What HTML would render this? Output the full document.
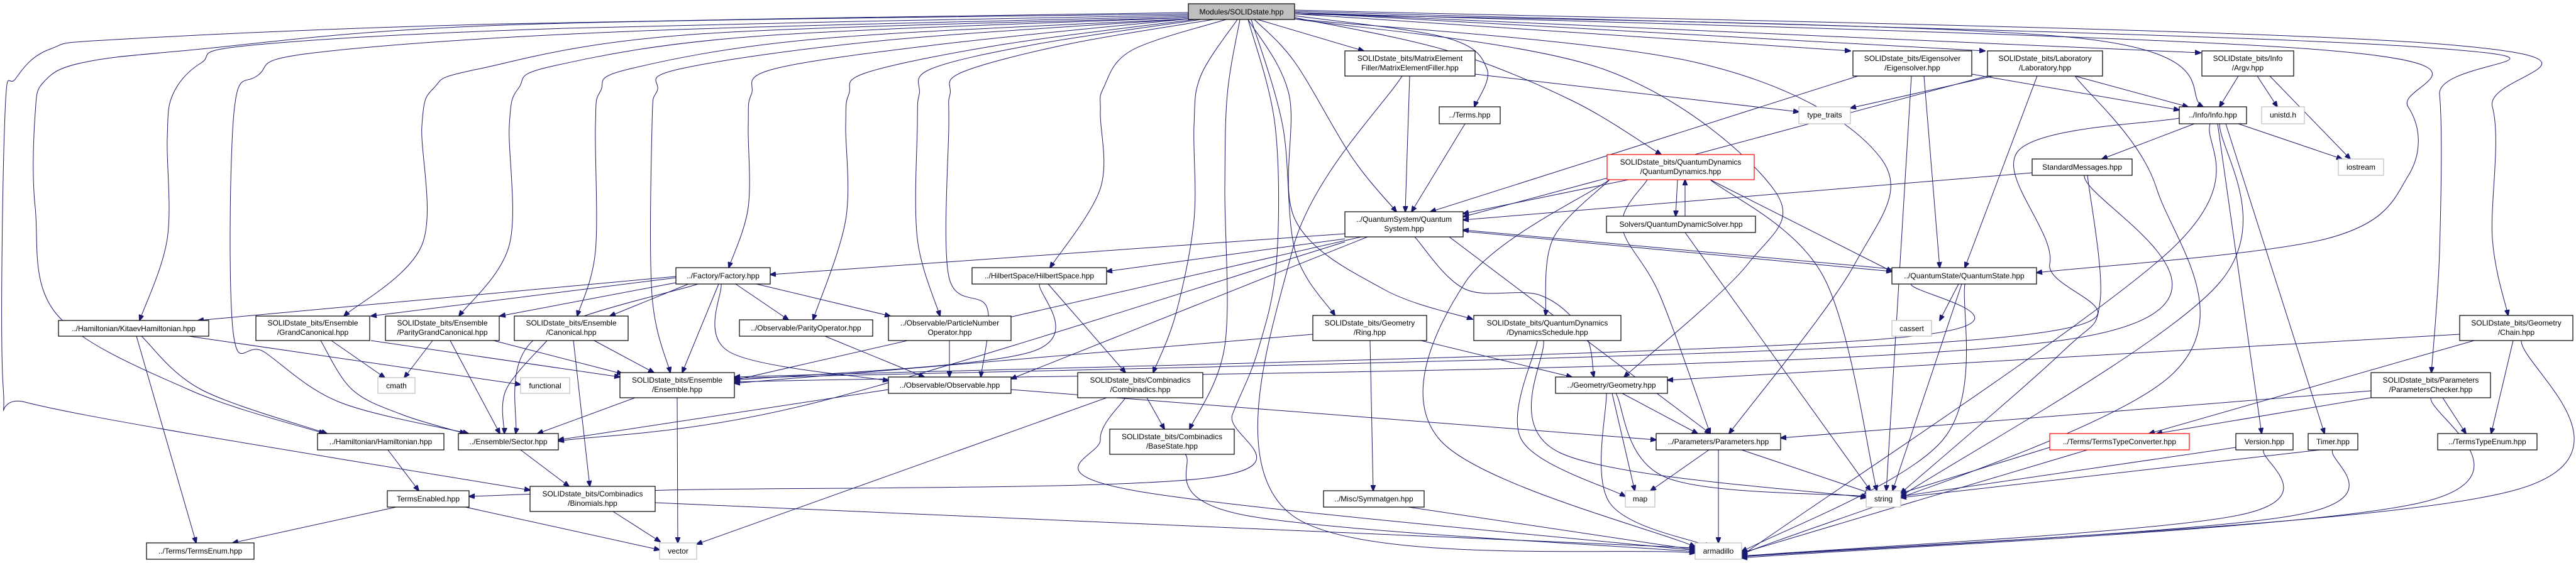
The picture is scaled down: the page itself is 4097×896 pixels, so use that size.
<!DOCTYPE html>
<html><head><meta charset="utf-8">
<style>
html,body{margin:0;padding:0;background:#fff;}
svg{display:block;}
text{font-family:"Liberation Sans",sans-serif;font-size:12px;fill:#000;text-anchor:middle;}
.n{fill:#fff;stroke:#000;stroke-width:1.2;}
.g{fill:#fff;stroke:#bfbfbf;stroke-width:1.2;}
.r{fill:#fff;stroke:#ff0000;stroke-width:1.2;}
.m{fill:#bfbfbf;stroke:#000;stroke-width:1.2;}
.e{fill:none;stroke:#191970;stroke-width:1;}
</style></head>
<body>
<svg id="s" width="4097" height="896" viewBox="0 0 4097 896" xmlns="http://www.w3.org/2000/svg">
<defs><marker id="a" markerWidth="10" markerHeight="8" refX="9" refY="4" orient="auto" markerUnits="userSpaceOnUse"><path d="M0,0 L10,4 L0,8 z" fill="#191970" stroke="#191970"/></marker></defs>
<g id="edges"></g>
<g id="nodes">
<rect class="m" x="1890" y="6" width="169" height="25"/><text x="1974.5" y="23">Modules/SOLIDstate.hpp</text>

<rect class="n" x="93" y="510" width="239" height="25"/><text x="212.5" y="527">../Hamiltonian/KitaevHamiltonian.hpp</text>
<rect class="n" x="407" y="503" width="181" height="39"/><text x="497.5" y="518">SOLIDstate_bits/Ensemble</text><text x="497.5" y="533">/GrandCanonical.hpp</text>
<rect class="n" x="613" y="503" width="181" height="39"/><text x="703.5" y="518">SOLIDstate_bits/Ensemble</text><text x="703.5" y="533">/ParityGrandCanonical.hpp</text>
<rect class="n" x="818" y="503" width="181" height="39"/><text x="908.5" y="518">SOLIDstate_bits/Ensemble</text><text x="908.5" y="533">/Canonical.hpp</text>
<rect class="g" x="601" y="601" width="59" height="25"/><text x="630.5" y="618">cmath</text>
<rect class="g" x="828" y="601" width="78" height="25"/><text x="867" y="618">functional</text>
<rect class="n" x="986" y="593" width="182" height="40"/><text x="1077" y="609">SOLIDstate_bits/Ensemble</text><text x="1077" y="624">/Ensemble.hpp</text>
<rect class="n" x="505" y="690" width="201" height="26"/><text x="605.5" y="707">../Hamiltonian/Hamiltonian.hpp</text>
<rect class="n" x="729" y="690" width="159" height="26"/><text x="808.5" y="707">../Ensemble/Sector.hpp</text>
<rect class="n" x="616" y="781" width="130" height="26"/><text x="681" y="798">TermsEnabled.hpp</text>
<rect class="n" x="843" y="774" width="199" height="40"/><text x="942.5" y="790">SOLIDstate_bits/Combinadics</text><text x="942.5" y="805">/Binomials.hpp</text>
<rect class="n" x="233" y="864" width="171" height="26"/><text x="318.5" y="881">../Terms/TermsEnum.hpp</text>

<rect class="n" x="1075" y="426" width="150" height="26"/><text x="1150" y="443">../Factory/Factory.hpp</text>
<rect class="n" x="1546" y="426" width="214" height="26"/><text x="1653" y="443">../HilbertSpace/HilbertSpace.hpp</text>
<rect class="n" x="1176" y="509" width="212" height="26"/><text x="1282" y="526">../Observable/ParityOperator.hpp</text>
<rect class="n" x="1413" y="503" width="195" height="39"/><text x="1510.5" y="518">../Observable/ParticleNumber</text><text x="1510.5" y="533">Operator.hpp</text>
<rect class="n" x="1413" y="600" width="195" height="26"/><text x="1510.5" y="617">../Observable/Observable.hpp</text>
<rect class="n" x="1714" y="593" width="199" height="40"/><text x="1813.5" y="609">SOLIDstate_bits/Combinadics</text><text x="1813.5" y="624">/Combinadics.hpp</text>
<rect class="n" x="1765" y="683" width="198" height="40"/><text x="1864" y="699">SOLIDstate_bits/Combinadics</text><text x="1864" y="714">/BaseState.hpp</text>
<rect class="g" x="1049" y="864" width="59" height="26"/><text x="1078.5" y="881">vector</text>

<rect class="n" x="2139" y="81" width="207" height="40"/><text x="2242.5" y="97">SOLIDstate_bits/MatrixElement</text><text x="2242.5" y="112">Filler/MatrixElementFiller.hpp</text>
<rect class="n" x="2289" y="170" width="97" height="27"/><text x="2337.5" y="187">../Terms.hpp</text>
<rect class="g" x="2861" y="170" width="82" height="27"/><text x="2902" y="187">type_traits</text>
<rect class="r" x="2556" y="246" width="234" height="40"/><text x="2673" y="262">SOLIDstate_bits/QuantumDynamics</text><text x="2673" y="277">/QuantumDynamics.hpp</text>
<rect class="n" x="2139" y="337" width="188" height="40"/><text x="2233" y="353">../QuantumSystem/Quantum</text><text x="2233" y="368">System.hpp</text>
<rect class="n" x="2555" y="344" width="237" height="26"/><text x="2673.5" y="361">Solvers/QuantumDynamicSolver.hpp</text>
<rect class="n" x="2088" y="502" width="181" height="40"/><text x="2178.5" y="518">SOLIDstate_bits/Geometry</text><text x="2178.5" y="533">/Ring.hpp</text>
<rect class="n" x="2344" y="502" width="234" height="40"/><text x="2461" y="518">SOLIDstate_bits/QuantumDynamics</text><text x="2461" y="533">/DynamicsSchedule.hpp</text>
<rect class="n" x="2474" y="600" width="178" height="26"/><text x="2563" y="617">../Geometry/Geometry.hpp</text>
<rect class="n" x="2634" y="690" width="198" height="26"/><text x="2733" y="707">../Parameters/Parameters.hpp</text>
<rect class="n" x="2105" y="781" width="160" height="26"/><text x="2185" y="798">../Misc/Symmatgen.hpp</text>
<rect class="g" x="2585" y="781" width="47" height="26"/><text x="2608.5" y="798">map</text>
<rect class="g" x="2968" y="781" width="55" height="26"/><text x="2995.5" y="798">string</text>
<rect class="g" x="2696" y="864" width="74" height="26"/><text x="2733" y="881">armadillo</text>
<rect class="n" x="2947" y="81" width="189" height="40"/><text x="3041.5" y="97">SOLIDstate_bits/Eigensolver</text><text x="3041.5" y="112">/Eigensolver.hpp</text>
<rect class="n" x="3009" y="426" width="230" height="26"/><text x="3124" y="443">../QuantumState/QuantumState.hpp</text>
<rect class="g" x="3009" y="510" width="63" height="25"/><text x="3040.5" y="527">cassert</text>

<rect class="n" x="3161" y="81" width="183" height="40"/><text x="3252.5" y="97">SOLIDstate_bits/Laboratory</text><text x="3252.5" y="112">/Laboratory.hpp</text>
<rect class="n" x="3502" y="81" width="146" height="40"/><text x="3575" y="97">SOLIDstate_bits/Info</text><text x="3575" y="112">/Argv.hpp</text>
<rect class="n" x="3466" y="170" width="107" height="27"/><text x="3519.5" y="187">../Info/Info.hpp</text>
<rect class="g" x="3597" y="170" width="68" height="27"/><text x="3631" y="187">unistd.h</text>
<rect class="n" x="3232" y="253" width="159" height="26"/><text x="3311.5" y="270">StandardMessages.hpp</text>
<rect class="g" x="3719" y="253" width="72" height="26"/><text x="3755" y="270">iostream</text>
<rect class="n" x="3912" y="502" width="180" height="40"/><text x="4002" y="518">SOLIDstate_bits/Geometry</text><text x="4002" y="533">/Chain.hpp</text>
<rect class="n" x="3771" y="593" width="190" height="40"/><text x="3866" y="609">SOLIDstate_bits/Parameters</text><text x="3866" y="624">/ParametersChecker.hpp</text>
<rect class="r" x="3260" y="690" width="222" height="26"/><text x="3371" y="707">../Terms/TermsTypeConverter.hpp</text>
<rect class="n" x="3556" y="690" width="91" height="26"/><text x="3601.5" y="707">Version.hpp</text>
<rect class="n" x="3671" y="690" width="79" height="26"/><text x="3710.5" y="707">Timer.hpp</text>
<rect class="n" x="3877" y="690" width="158" height="26"/><text x="3956" y="707">../TermsTypeEnum.hpp</text>
</g>
</svg>
<script>
var E=[
[[1890,20],[800,38],[200,62],[80,78],[25,125],[8,180],[5,615],[40,640],[300,690],[843,780]],
[[1890,22],[800,40],[300,80],[130,100],[70,130],[56,180],[56,330],[90,500],[300,620],[516,690]],
[[1890,24],[900,45],[400,72],[320,100],[275,150],[266,220],[266,380],[222,510]],
[[1890,26],[1000,50],[500,84],[410,120],[372,180],[371,530],[420,560],[540,640],[745,690]],
[[1890,28],[1100,55],[760,110],[690,140],[671,200],[671,390],[547,503]],
[[1890,28],[1200,58],[880,105],[825,140],[810,200],[810,390],[730,503]],
[[1890,30],[1300,62],[1000,110],[955,145],[947,200],[947,400],[918,503]],
[[1890,30],[1400,65],[1080,110],[1045,145],[1037,200],[1037,470],[1066,593]],
[[1890,30],[1500,70],[1230,110],[1195,150],[1190,200],[1190,330],[1159,426]],
[[1900,31],[1600,70],[1380,115],[1350,150],[1345,200],[1345,350],[1293,509]],
[[1910,31],[1650,70],[1480,110],[1462,150],[1459,200],[1459,380],[1495,503]],
[[1930,31],[1700,70],[1530,115],[1511,150],[1509,200],[1509,440],[1570,490],[1560,600]],
[[1950,31],[1800,80],[1755,140],[1750,180],[1750,300],[1670,426]],
[[1968,31],[1910,120],[1899,200],[1899,350],[1870,500],[1834,593]],
[[1972,31],[1952,150],[1948,300],[1948,550],[1892,683]],
[[1985,31],[2028,200],[2030,420],[2000,560],[1960,660],[1925,760],[1060,780],[746,790]],
[[2000,31],[2169,81]],
[[1995,31],[2060,100],[2150,250],[2221,337]],
[[2059,25],[2300,60],[2365,110],[2345,170]],
[[2059,28],[2300,80],[2500,160],[2642,246]],
[[2059,30],[2550,110],[2820,300],[2780,420],[2583,600]],
[[2059,30],[2700,100],[2990,250],[2950,420],[2750,690]],
[[1990,31],[2040,200],[2060,400],[2123,502]],
[[1985,31],[2050,150],[2060,350],[2200,460],[2342,508]],
[[2059,22],[2943,81]],
[[2059,20],[3157,81]],
[[2059,20],[3500,84]],
[[2059,22],[3300,60],[3504,170]],
[[2059,20],[3700,80],[3830,170],[3830,280],[3700,380],[3239,434]],
[[2059,18],[3850,75],[3880,150],[3880,400],[3867,593]],
[[2059,16],[3880,70],[3964,170],[3964,380],[3989,502]],
[[225,535],[320,620],[520,690]],
[[217,535],[312,864]],
[[300,535],[828,612]],
[[527,542],[612,601]],[[510,542],[560,620],[640,660],[740,690]],[[590,542],[986,600]],
[[688,542],[643,601]],[[716,542],[795,690]],[[785,542],[990,595]],
[[870,542],[805,620],[802,690]],[[912,542],[938,774]],[[945,542],[1040,593]],
[[1010,633],[855,690]],[[1077,633],[1078,864]],
[[617,716],[666,781]],[[828,716],[905,774]],
[[630,807],[370,864]],[[740,807],[1049,875]],
[[975,814],[1050,862]],[[1042,800],[2696,872]],
[[1075,440],[315,510]],[[1075,442],[590,503]],[[1085,448],[795,503]],[[1095,452],[970,503]],
[[1143,452],[1085,593]],[[1170,452],[1254,509]],[[1203,452],[1416,503]],[[1147,452],[1160,560],[1413,606]],
[[1110,452],[850,540],[820,690]],
[[1312,535],[1470,600]],[[1510,542],[1510,600]],
[[1608,620],[2634,700]],[[1413,620],[888,700]],
[[1653,452],[1640,560],[1168,605]],[[1667,452],[1790,593]],
[[1824,633],[1852,683]],[[1760,633],[1108,866]],
[[1790,633],[1750,700],[1800,780],[2696,876]],
[[1885,723],[1980,820],[2696,878]],
[[2139,372],[1225,437]],[[2139,380],[1760,432]],[[2165,377],[1168,605]],[[2175,377],[1608,603]],
[[2250,377],[2330,460],[2450,470],[2520,530],[2535,600]],
[[2305,377],[2720,690]],[[2327,368],[3009,432]],[[3009,428],[2327,366]],
[[2139,385],[1300,640],[888,702]],
[[3115,452],[3085,510]],[[3120,452],[3010,781]],[[3125,452],[3090,700],[2770,878]],
[[3040,452],[2990,540],[1168,600]],
[[2590,286],[2327,340]],[[2668,286],[2665,344]],[[2680,344],[2680,286]],
[[2560,286],[2470,380],[2458,502]],[[2560,286],[2330,450],[2290,700],[2696,870]],
[[2620,286],[2580,360],[2640,470],[2720,690]],[[2720,286],[2900,440],[2985,781]],
[[2720,286],[3009,432]],[[2680,370],[2975,781]],
[[2242,121],[2235,337]],[[2346,118],[2861,178]],[[2230,121],[2055,400],[2055,820],[2696,880]],
[[2330,197],[2245,337]],
[[2955,121],[2275,337]],[[3060,121],[3085,426]],[[3040,121],[3000,781]],[[3136,118],[3466,175]],
[[3160,121],[2327,345]],[[3240,121],[3125,426]],[[3300,121],[3480,170]],[[3170,121],[2943,172]],
[[3300,121],[3430,300],[3450,600],[2770,882]],
[[3560,121],[3530,170]],[[3590,121],[3622,170]],[[3610,121],[3738,253]],
[[3490,197],[3343,253]],[[3560,197],[3725,253]],[[3527,197],[3597,690]],[[3540,197],[3697,690]],
[[3466,188],[3210,240],[3260,420],[3150,540],[1168,602]],
[[3515,197],[3450,400],[2770,884]],[[3530,197],[3530,450],[3023,790]],
[[3232,275],[2327,350]],[[3320,279],[3340,480],[3280,560],[3023,785]],
[[3315,279],[3290,540],[1168,608]],
[[3912,532],[2652,605]],[[3935,542],[3418,690]],[[3997,542],[3962,690]],[[4010,542],[4000,780],[2770,886]],
[[3771,622],[2832,697]],[[3771,633],[3430,690]],[[3885,633],[3922,690]],[[3866,633],[3850,800],[2770,888]],
[[3260,712],[3023,785]],[[3320,716],[2770,880]],
[[3556,712],[3023,790]],[[3600,716],[3560,820],[2770,885]],
[[3690,716],[3023,792]],[[3710,716],[3650,820],[2770,886]],
[[2580,626],[2700,690]],[[2564,626],[2600,781]],[[2570,626],[2650,760],[2970,790]],[[2555,626],[2560,800],[2720,870]],
[[2718,716],[2625,781]],[[2770,716],[2975,785]],[[2733,716],[2733,864]],
[[2445,542],[2420,700],[2585,790]],[[2455,542],[2480,720],[2968,792]],
[[2260,542],[2500,600]],[[2179,542],[2184,781]],[[2088,532],[1168,610]],
[[2240,807],[2696,875]]
];
function cr(p){if(p.length==2)return "M"+p[0]+" L"+p[1];var d="M"+p[0];
for(var i=0;i<p.length-1;i++){var p0=p[i-1]||p[i],p1=p[i],p2=p[i+1],p3=p[i+2]||p2;
var c1=[p1[0]+(p2[0]-p0[0])/6,p1[1]+(p2[1]-p0[1])/6],c2=[p2[0]-(p3[0]-p1[0])/6,p2[1]-(p3[1]-p1[1])/6];
d+=" C"+c1+" "+c2+" "+p2;}return d;}
var g=document.getElementById("edges"),h="";
E.forEach(function(p){h+='<path class="e" marker-end="url(#a)" d="'+cr(p)+'"/>';});
g.innerHTML=h;
</script>
</body></html>
